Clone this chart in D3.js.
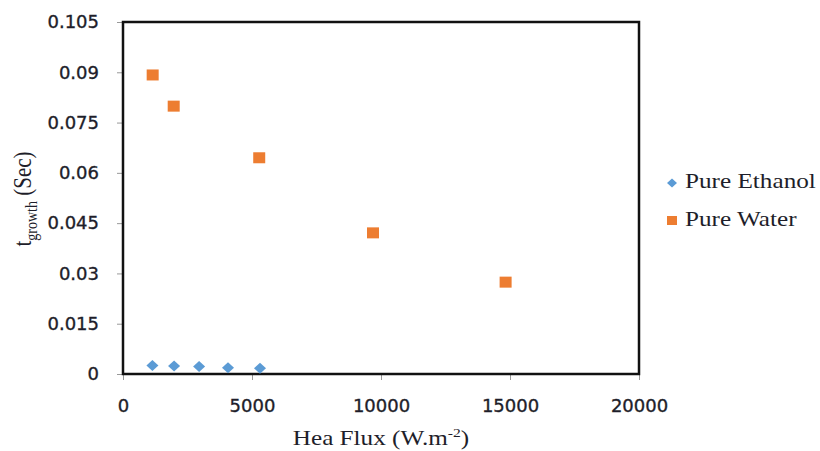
<!DOCTYPE html>
<html>
<head>
<meta charset="utf-8">
<script src="https://cdn.jsdelivr.net/npm/d3@7"></script>
<style>
  body { margin: 0; background: #fff; }
  .tick text { font-family: "DejaVu Sans", sans-serif; font-size: 18px; fill: #1e1e2a; stroke: #1e1e2a; stroke-width: 0.35px; }
  .serif { font-family: "Liberation Serif", "Times New Roman", serif; fill: #1e1e2a; }
</style>
</head>
<body>
<svg width="820" height="451"></svg>
<script>
// data
const ethanolFlux = [1140, 1980, 2950, 4070, 5310];
const ethanolTime = [0.0025, 0.0024, 0.0022, 0.0019, 0.0017];
const waterFlux = [1150, 1965, 5280, 9690, 14830];
const waterTime = [0.0892, 0.0799, 0.0645, 0.0421, 0.0274];
const xTicks = [0, 5000, 10000, 15000, 20000];
const yTicks = [0, 0.015, 0.03, 0.045, 0.06, 0.075, 0.09, 0.105];
const seriesNames = ["Pure Ethanol", "Pure Water"];
const seriesColors = ["#5b9bd5", "#ed7d31"];

var svg = d3.select("svg");
const margin = { top: 22, right: 181, bottom: 77, left: 123 };
const width = 820 - margin.left - margin.right;
const height = 451 - margin.top - margin.bottom;
const sx = 1.2; // picture is stretched sideways

const x = d3.scaleLinear().domain([0, 20000]).range([0, width]);
const y = d3.scaleLinear().domain([0, 0.105]).range([height, 0]);

const g = svg.append("g").attr("transform", `translate(${margin.left},${margin.top})`);

// axes
const xAxis = g.append("g").attr("transform", `translate(0,${height})`)
    .call(d3.axisBottom(x).tickValues(xTicks).tickFormat(d3.format("d")).tickSize(6));
const yAxis = g.append("g")
    .call(d3.axisLeft(y).tickValues(yTicks).tickFormat(d => d === 0 ? "0" : String(+d.toFixed(3))).tickSize(6).tickPadding(18));
[xAxis, yAxis].forEach(a => {
    a.select(".domain").remove();
    a.selectAll(".tick line").attr("stroke", "#999").attr("stroke-width", 1);
});
xAxis.selectAll(".tick text").attr("dy", "0.75em").attr("y", 24);

// plot frame
g.append("rect")
    .attr("x", 0).attr("y", 0)
    .attr("width", width).attr("height", height)
    .attr("fill", "none").attr("stroke", "#111").attr("stroke-width", 2.5);

// ethanol diamonds
const diamond = (cx, cy, w, h) => `M${cx},${cy - h / 2}L${cx + w / 2},${cy}L${cx},${cy + h / 2}L${cx - w / 2},${cy}Z`;
g.selectAll(".eth")
    .data(ethanolFlux.map((f, i) => [f, ethanolTime[i]]))
    .join("path")
    .attr("class", "eth")
    .attr("d", d => diamond(x(d[0]), y(d[1]), 12, 11))
    .attr("fill", seriesColors[0]);

// water squares
g.selectAll(".wat")
    .data(waterFlux.map((f, i) => [f, waterTime[i]]))
    .join("rect")
    .attr("class", "wat")
    .attr("x", d => x(d[0]) - 6).attr("y", d => y(d[1]) - 5.5)
    .attr("width", 12).attr("height", 11)
    .attr("fill", seriesColors[1]);

// x title
const xt = svg.append("text").attr("class", "serif")
    .attr("transform", `translate(${margin.left + width / 2},445) scale(${sx},1)`)
    .attr("text-anchor", "middle").style("font-size", "21px");
xt.append("tspan").text("Hea Flux (W.m");
xt.append("tspan").attr("dy", -8).style("font-size", "13px").text("-2");
xt.append("tspan").attr("dy", 8).text(")");

// y title
const yt = svg.append("text").attr("class", "serif")
    .attr("transform", `translate(31,199) scale(${sx},1) rotate(-90)`)
    .attr("text-anchor", "middle").style("font-size", "21px");
yt.append("tspan").text("t");
yt.append("tspan").attr("dy", 5).style("font-size", "14px").text("growth");
yt.append("tspan").attr("dy", -5).text(" (Sec)");

// legend
const legend = svg.append("g").attr("transform", "translate(672,183)");
legend.append("path").attr("d", diamond(0, 0, 10, 9)).attr("fill", seriesColors[0]);
legend.append("rect").attr("x", -5).attr("y", 33).attr("width", 10).attr("height", 9).attr("fill", seriesColors[1]);
seriesNames.forEach((n, i) => {
    legend.append("text").attr("class", "serif")
        .attr("transform", `translate(13,${5 + i * 38}) scale(${sx},1)`)
        .style("font-size", "21px").text(n);
});
</script>
</body>
</html>
